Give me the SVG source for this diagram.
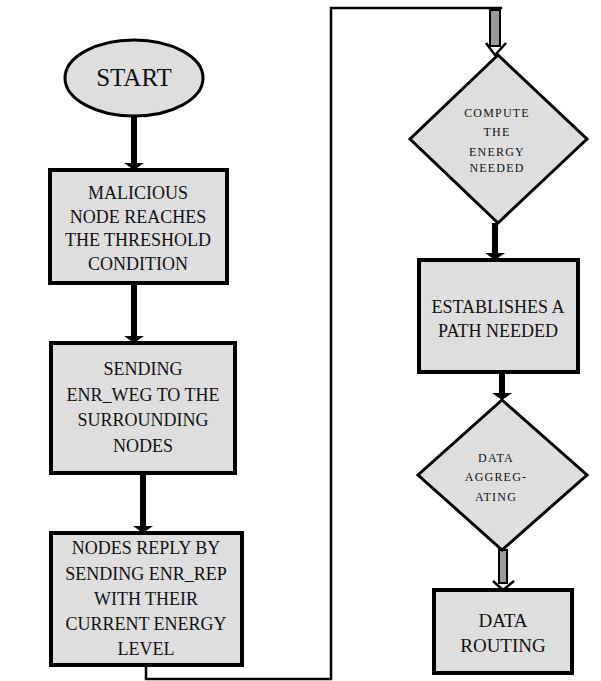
<svg xmlns="http://www.w3.org/2000/svg" width="601" height="681" viewBox="0 0 601 681">
<style>
.shape{fill:#dedede;stroke:#000;stroke-width:4}
.t{font-family:"Liberation Serif","Times New Roman",serif;font-size:18px;fill:#111;text-anchor:middle}
.s{font-family:"Liberation Serif","Times New Roman",serif;font-size:12px;letter-spacing:1.2px;fill:#111;text-anchor:middle}
.thick{stroke:#000;stroke-width:6;fill:none}
.loop{stroke:#000;stroke-width:2.5;fill:none}
.hollow{fill:#9a9a9a;stroke:#000;stroke-width:2}
.vhead{fill:none;stroke:#000;stroke-width:2.5}
</style>
<defs>
<marker id="ah" markerUnits="userSpaceOnUse" markerWidth="10" markerHeight="22" viewBox="0 -11 10 22" refX="0" refY="0" orient="auto">
<path d="M0,-10 L7,0 L0,10 Z" fill="#000"/>
</marker>
</defs>
<rect width="601" height="681" fill="#fff"/>
<g id="connectors">
<line class="thick" x1="134" y1="117" x2="134" y2="163" marker-end="url(#ah)"/>
<line class="thick" x1="134" y1="283" x2="134" y2="336" marker-end="url(#ah)"/>
<line class="thick" x1="143" y1="473" x2="143" y2="526" marker-end="url(#ah)"/>
<line class="thick" x1="495" y1="223" x2="495" y2="253" marker-end="url(#ah)"/>
<line class="thick" x1="502" y1="372" x2="502" y2="393" marker-end="url(#ah)"/>
<path class="loop" d="M146,665 V679 H331 V8 H502"/>
<rect class="hollow" x="490" y="10" width="10" height="36"/>
<path class="vhead" d="M486,43 L495,55 L506,43"/>
<rect class="hollow" x="499" y="550" width="8" height="33"/>
<path class="vhead" d="M493,581 L503,590 L514,581"/>
</g>
<g id="start">
<ellipse class="shape" cx="134" cy="78" rx="69" ry="38" style="stroke-width:3"/>
<text class="t" x="134" y="86" style="font-size:25px">START</text>
</g>
<g id="malicious">
<rect class="shape" x="50" y="170" width="177" height="113"/>
<text class="t" x="138" y="199">MALICIOUS</text>
<text class="t" x="138" y="223">NODE REACHES</text>
<text class="t" x="138" y="246">THE THRESHOLD</text>
<text class="t" x="138" y="270">CONDITION</text>
</g>
<g id="sending">
<rect class="shape" x="51" y="343" width="184" height="130"/>
<text class="t" x="143" y="375">SENDING</text>
<text class="t" x="143" y="401">ENR_WEG TO THE</text>
<text class="t" x="143" y="426">SURROUNDING</text>
<text class="t" x="143" y="452">NODES</text>
</g>
<g id="reply">
<rect class="shape" x="51" y="533" width="191" height="132"/>
<text class="t" x="146" y="554">NODES REPLY BY</text>
<text class="t" x="146" y="580">SENDING ENR_REP</text>
<text class="t" x="146" y="605">WITH THEIR</text>
<text class="t" x="146" y="630">CURRENT ENERGY</text>
<text class="t" x="146" y="655">LEVEL</text>
</g>
<g id="compute">
<polygon class="shape" points="498,55 587,139 498,223 410,139" style="stroke-width:3"/>
<text class="s" x="497" y="117">COMPUTE</text>
<text class="s" x="497" y="136">THE</text>
<text class="s" x="497" y="156">ENERGY</text>
<text class="s" x="497" y="172">NEEDED</text>
</g>
<g id="establish">
<rect class="shape" x="419" y="260" width="159" height="112"/>
<text class="t" x="498" y="313">ESTABLISHES A</text>
<text class="t" x="498" y="337">PATH NEEDED</text>
</g>
<g id="aggregate">
<polygon class="shape" points="502,400 587,475 502,550 418,475" style="stroke-width:3"/>
<text class="s" x="496" y="462">DATA</text>
<text class="s" x="496" y="481">AGGREG-</text>
<text class="s" x="496" y="501">ATING</text>
</g>
<g id="routing">
<rect class="shape" x="434" y="590" width="138" height="83"/>
<text class="t" x="503" y="627" style="font-size:19px">DATA</text>
<text class="t" x="503" y="652" style="font-size:19px">ROUTING</text>
</g>
</svg>
